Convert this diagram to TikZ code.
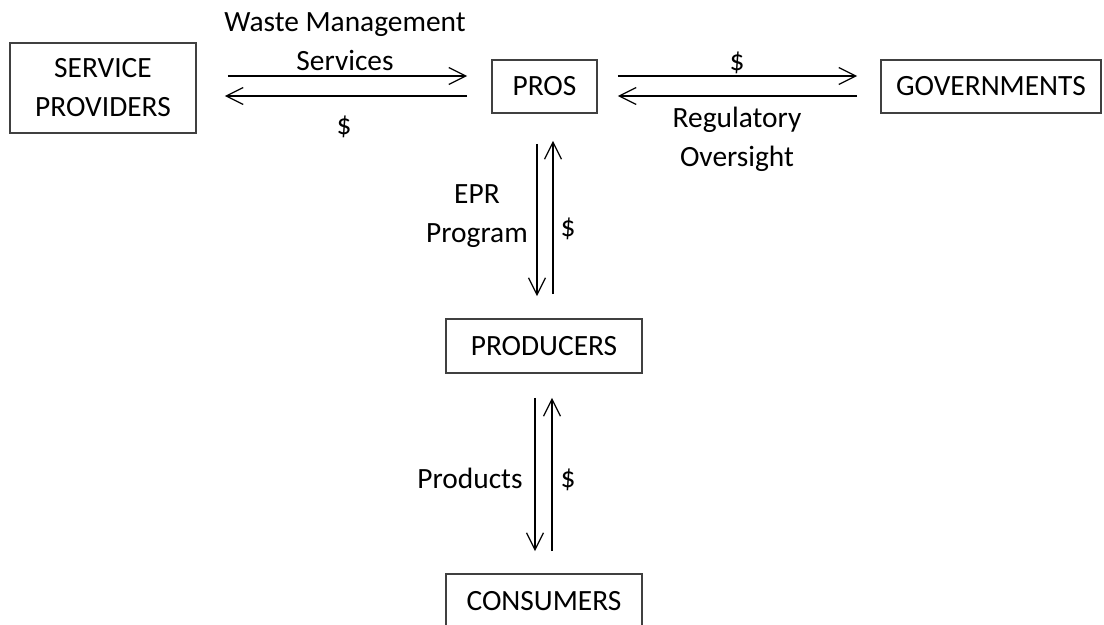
\documentclass[tikz,border=0pt]{standalone}
\usepackage{fontspec}
\setmainfont{Carlito}
\usetikzlibrary{arrows.meta}
\tikzset{
  every node/.style={font=\fontsize{14.7}{19.5}\selectfont},
  box/.style={draw=black!75,line width=0.9pt,inner sep=0pt,align=center,minimum height=26.5pt},
  flow/.style={line width=0.6pt,-{Straight Barb[length=8.5pt,width=8.5pt]}},
  lbl/.style={align=center,inner sep=0pt}
}
\begin{document}
\begin{tikzpicture}[x=0.5pt,y=-0.5pt]
\useasboundingbox (0,0) rectangle (1104,625);
% boxes
\node[box,minimum width=93pt,minimum height=45pt] (sp) at (103,88) {SERVICE\\PROVIDERS};
\node[box,minimum width=52.5pt] (pros) at (544.5,86.5) {PROS};
\node[box,minimum width=110pt] (gov) at (991,86.5) {GOVERNMENTS};
\node[box,minimum width=98pt,minimum height=27pt] (prod) at (544,346) {PRODUCERS};
\node[box,minimum width=98pt,minimum height=27pt] (cons) at (544,601) {CONSUMERS};

% rows of the horizontal arrows
\coordinate (rowA) at (0,76);
\coordinate (rowB) at (0,96);

\draw[flow,shorten <=15.5pt,shorten >=12pt] (sp.east |- rowA) -- (pros.west |- rowA);
\draw[flow,shorten <=12pt,shorten >=14pt] (pros.west |- rowB) -- (sp.east |- rowB);
\draw[flow,shorten <=10pt,shorten >=11.5pt] (pros.east |- rowA) -- (gov.west |- rowA);
\draw[flow,shorten <=11.5pt,shorten >=10pt] (gov.west |- rowB) -- (pros.east |- rowB);

\draw[flow,shorten <=15pt,shorten >=11pt] ([xshift=-3.75pt]pros.south) -- ([xshift=-3.5pt]prod.north);
\draw[flow,shorten <=12pt,shorten >=13.5pt] ([xshift=4.5pt]prod.north) -- ([xshift=4.25pt]pros.south);
\draw[flow,shorten <=12pt,shorten >=11pt] ([xshift=-4.5pt]prod.south) -- ([xshift=-4.5pt]cons.north);
\draw[flow,shorten <=11pt,shorten >=12pt] ([xshift=4pt]cons.north) -- ([xshift=4pt]prod.south);

% labels
\node[lbl] (wms) at (345,42) {Waste Management\\Services};
\node[lbl] (spd) at (344,127) {\$};
\node[lbl] (gvd) at (737,63) {\$};
\node[lbl] (reg) at (737,139) {Regulatory\\Oversight};
\node[lbl] (epr) at (477,216) {EPR\\Program};
\node[lbl] (prd) at (568,229) {\$};
\node[lbl] (pdt) at (470,478) {Products};
\node[lbl] (cnd) at (568,480) {\$};
\end{tikzpicture}
\end{document}
